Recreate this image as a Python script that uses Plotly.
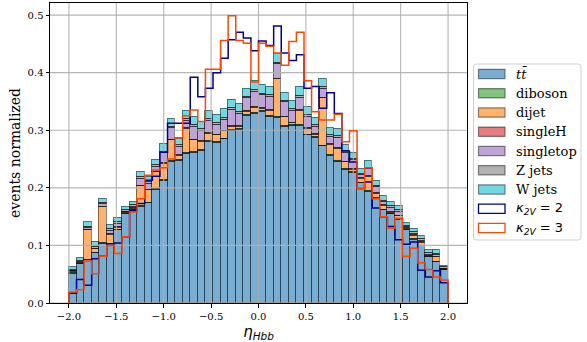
import numpy as np
import plotly.graph_objects as go

# ---- histogram binning: 50 bins on [-2, 2] ----
bin_edges = np.linspace(-2.0, 2.0, 51)
bin_centers = 0.5 * (bin_edges[:-1] + bin_edges[1:])
bin_width = bin_edges[1] - bin_edges[0]

# ---- background components (normalized, stacked) ----
ttbar = [0.051, 0.068, 0.074, 0.087, 0.103, 0.102, 0.126, 0.154, 0.161, 0.167,
         0.173, 0.196, 0.212, 0.245, 0.247, 0.259, 0.261, 0.264, 0.280, 0.278,
         0.284, 0.299, 0.301, 0.325, 0.329, 0.332, 0.323, 0.322, 0.306, 0.307,
         0.307, 0.291, 0.287, 0.272, 0.256, 0.245, 0.231, 0.226, 0.208, 0.193,
         0.181, 0.161, 0.154, 0.145, 0.126, 0.110, 0.099, 0.080, 0.071, 0.057]
diboson = [0.0005, 0.0006, 0.0008, 0.0007, 0.0009, 0.0008, 0.0009, 0.0010, 0.0010, 0.0011,
           0.0011, 0.0012, 0.0012, 0.0013, 0.0012, 0.0013, 0.0013, 0.0012, 0.0014, 0.0013,
           0.0013, 0.0014, 0.0013, 0.0014, 0.0014, 0.0014, 0.0013, 0.0014, 0.0013, 0.0013,
           0.0014, 0.0013, 0.0012, 0.0013, 0.0012, 0.0012, 0.0012, 0.0011, 0.0011, 0.0011,
           0.0010, 0.0010, 0.0009, 0.0009, 0.0008, 0.0008, 0.0007, 0.0007, 0.0006, 0.0005]
dijet = [0.003, 0.001, 0.052, 0.006, 0.063, 0.016, 0.004, 0.002, 0.002, 0.035,
         0.022, 0.030, 0.029, 0.036, 0.007, 0.042, 0.020, 0.015, 0.012, 0.012,
         0.013, 0.006, 0.004, 0.006, 0.009, 0.004, 0.010, 0.065, 0.015, 0.004,
         0.025, 0.010, 0.004, 0.082, 0.018, 0.022, 0.012, 0.004, 0.007, 0.025,
         0.008, 0.007, 0.002, 0.005, 0.002, 0.006, 0.005, 0.001, 0.008, 0.001]
singleH = [0.0004, 0.0005, 0.0006, 0.0005, 0.0006, 0.0006, 0.0007, 0.0007, 0.0008, 0.0008,
           0.0008, 0.0009, 0.0009, 0.0009, 0.0010, 0.0010, 0.0010, 0.0010, 0.0011, 0.0010,
           0.0011, 0.0011, 0.0011, 0.0011, 0.0011, 0.0011, 0.0011, 0.0011, 0.0010, 0.0011,
           0.0010, 0.0010, 0.0010, 0.0010, 0.0009, 0.0009, 0.0009, 0.0009, 0.0008, 0.0008,
           0.0008, 0.0007, 0.0007, 0.0007, 0.0006, 0.0006, 0.0005, 0.0005, 0.0005, 0.0004]
singletop = [0.001, 0.001, 0.002, 0.003, 0.004, 0.006, 0.006, 0.001, 0.002, 0.012,
             0.010, 0.008, 0.017, 0.020, 0.015, 0.013, 0.023, 0.018, 0.022, 0.017,
             0.018, 0.028, 0.021, 0.022, 0.026, 0.022, 0.022, 0.025, 0.025, 0.020,
             0.022, 0.020, 0.013, 0.015, 0.013, 0.018, 0.016, 0.016, 0.005, 0.012,
             0.010, 0.005, 0.008, 0.007, 0.002, 0.003, 0.003, 0.002, 0.003, 0.001]
zjets = [0.0020, 0.0022, 0.0026, 0.0024, 0.0027, 0.0025, 0.0026, 0.0025, 0.0027, 0.0028,
         0.0027, 0.0029, 0.0028, 0.0030, 0.0029, 0.0030, 0.0031, 0.0029, 0.0031, 0.0030,
         0.0031, 0.0032, 0.0030, 0.0031, 0.0032, 0.0031, 0.0030, 0.0031, 0.0030, 0.0031,
         0.0030, 0.0030, 0.0029, 0.0030, 0.0029, 0.0028, 0.0028, 0.0027, 0.0027, 0.0026,
         0.0026, 0.0025, 0.0025, 0.0024, 0.0024, 0.0023, 0.0022, 0.0022, 0.0021, 0.0020]
wjets = [0.005, 0.004, 0.008, 0.007, 0.007, 0.007, 0.007, 0.006, 0.006, 0.008,
         0.010, 0.010, 0.013, 0.014, 0.011, 0.014, 0.013, 0.012, 0.014, 0.014,
         0.016, 0.014, 0.014, 0.013, 0.015, 0.015, 0.015, 0.015, 0.014, 0.015,
         0.015, 0.014, 0.013, 0.014, 0.012, 0.012, 0.010, 0.010, 0.008, 0.012,
         0.009, 0.008, 0.008, 0.007, 0.006, 0.006, 0.006, 0.006, 0.006, 0.003]

# ---- signal hypotheses (step outlines) ----
k2v_2 = [0.017, 0.041, 0.031, 0.077, 0.081, 0.103, 0.104, 0.115, 0.160, 0.173,
         0.213, 0.220, 0.262, 0.312, 0.312, 0.312, 0.392, 0.358, 0.373, 0.400,
         0.425, 0.457, 0.470, 0.460, 0.438, 0.455, 0.447, 0.481, 0.434, 0.421,
         0.431, 0.373, 0.376, 0.338, 0.365, 0.329, 0.264, 0.245, 0.199, 0.210,
         0.165, 0.150, 0.133, 0.110, 0.102, 0.106, 0.057, 0.045, 0.056, 0.035]
k2v_3 = [0.019, 0.023, 0.073, 0.051, 0.081, 0.100, 0.086, 0.115, 0.158, 0.181,
         0.222, 0.231, 0.235, 0.250, 0.287, 0.325, 0.335, 0.315, 0.406, 0.406,
         0.456, 0.499, 0.456, 0.451, 0.384, 0.451, 0.446, 0.434, 0.413, 0.454,
         0.470, 0.386, 0.332, 0.318, 0.318, 0.328, 0.280, 0.299, 0.199, 0.235,
         0.181, 0.150, 0.130, 0.147, 0.081, 0.095, 0.070, 0.058, 0.045, 0.040]

x_ticks = [-2.0, -1.5, -1.0, -0.5, 0.0, 0.5, 1.0, 1.5, 2.0]
y_ticks = [0.0, 0.1, 0.2, 0.3, 0.4, 0.5]

X_RANGE = [-2.2, 2.2]
Y_RANGE = [0.0, 0.521]

SERIF = "DejaVu Serif"
SANS = "DejaVu Sans"

backgrounds = [
    ("<i>t</i><i>t̄</i>", ttbar, "rgba(31,119,180,0.6)"),
    ("diboson", diboson, "rgba(44,160,44,0.6)"),
    ("dijet", dijet, "rgba(255,127,14,0.6)"),
    ("singleH", singleH, "rgba(214,39,40,0.6)"),
    ("singletop", singletop, "rgba(148,103,189,0.6)"),
    ("Z jets", zjets, "rgba(127,127,127,0.6)"),
    ("W jets", wjets, "rgba(23,190,207,0.6)"),
]
signals = [
    ('<span style="font-family:DejaVu Sans"><i>κ</i><sub><i>2V</i></sub> = 2</span>', k2v_2, "#00008b"),
    ('<span style="font-family:DejaVu Sans"><i>κ</i><sub><i>2V</i></sub> = 3</span>', k2v_3, "#ff4500"),
]
EDGE = "rgba(0,0,0,0.45)"

fig = go.Figure()

for name, vals, color in backgrounds:
    fig.add_trace(go.Bar(
        x=bin_centers, y=vals, width=bin_width,
        marker=dict(color=color, line=dict(color=EDGE, width=1.3)),
        showlegend=False, hoverinfo="skip",
    ))

# grid drawn over the bars but under the step lines
gx, gy = [], []
for t in x_ticks:
    gx += [t, t, None]
    gy += [Y_RANGE[0], Y_RANGE[1], None]
for t in y_ticks:
    gx += [X_RANGE[0], X_RANGE[1], None]
    gy += [t, t, None]
fig.add_trace(go.Scatter(x=gx, y=gy, mode="lines",
                         line=dict(color="rgba(176,176,176,0.95)", width=1.1),
                         showlegend=False, hoverinfo="skip"))

for name, vals, color in signals:
    sx = [bin_edges[0]] + list(bin_edges[:-1]) + [bin_edges[-1]]
    sy = [0.0] + list(vals) + [0.0]
    fig.add_trace(go.Scatter(x=sx, y=sy, mode="lines", line_shape="hv",
                             line=dict(color=color, width=1.5),
                             showlegend=False, hoverinfo="skip"))

# ---- hand-built legend (pixel layout converted to paper coordinates) ----
W, H = 587, 342
ML, MR, MT, MB = 50, 120, 3, 39
plot_w = W - ML - MR
plot_h = H - MT - MB


def px(xp):
    return (xp - ML) / plot_w


def py(yp):
    return (H - MB - yp) / plot_h


shapes = []
annotations = []
bx0, bx1, by0, by1, r = 473.5, 581, 64, 240, 3
shapes.append(dict(
    type="path", xref="paper", yref="paper",
    path=(f"M {px(bx0 + r)},{py(by0)} L {px(bx1 - r)},{py(by0)} "
          f"Q {px(bx1)},{py(by0)} {px(bx1)},{py(by0 + r)} "
          f"L {px(bx1)},{py(by1 - r)} Q {px(bx1)},{py(by1)} {px(bx1 - r)},{py(by1)} "
          f"L {px(bx0 + r)},{py(by1)} Q {px(bx0)},{py(by1)} {px(bx0)},{py(by1 - r)} "
          f"L {px(bx0)},{py(by0 + r)} Q {px(bx0)},{py(by0)} {px(bx0 + r)},{py(by0)} Z"),
    line=dict(color="#d0d0d0", width=1), fillcolor="rgba(255,255,255,0.8)", layer="above",
))

entries = [(n, c, "fill") for n, _, c in backgrounds] + [(n, c, "line") for n, _, c in signals]
for k, (name, color, kind) in enumerate(entries):
    yc = 74 + 19.25 * k
    if kind == "fill":
        shapes.append(dict(type="rect", xref="paper", yref="paper",
                           x0=px(478.5), x1=px(505), y0=py(yc + 4.7), y1=py(yc - 4.7),
                           fillcolor=color, line=dict(color=EDGE, width=1.2), layer="above"))
    else:
        shapes.append(dict(type="rect", xref="paper", yref="paper",
                           x0=px(478.5), x1=px(505), y0=py(yc + 4.7), y1=py(yc - 4.7),
                           fillcolor="white", line=dict(color=color, width=1.3), layer="above"))
    annotations.append(dict(xref="paper", yref="paper", x=px(514), y=py(yc),
                            xanchor="left", yanchor="middle", showarrow=False,
                            text=name, font=dict(family=SERIF, size=13, color="black")))

fig.update_layout(
    width=W, height=H,
    margin=dict(l=ML, r=MR, t=MT, b=MB, pad=0),
    paper_bgcolor="white", plot_bgcolor="white",
    barmode="stack", bargap=0,
    shapes=shapes, annotations=annotations,
    showlegend=False,
    xaxis=dict(
        range=X_RANGE, tickvals=x_ticks, tickformat=".1f",
        showgrid=False, zeroline=False,
        showline=True, mirror=True, linecolor="black", linewidth=1,
        ticks="outside", ticklen=3.5, tickwidth=1, tickcolor="black",
        tickfont=dict(family=SERIF, size=10, color="black"),
        title=dict(text="<i>η</i><sub><i>Hbb</i></sub>", standoff=6,
                   font=dict(family=SANS, size=15, color="black")),
    ),
    yaxis=dict(
        range=Y_RANGE, tickvals=y_ticks, tickformat=".1f",
        showgrid=False, zeroline=False,
        showline=True, mirror=True, linecolor="black", linewidth=1,
        ticks="outside", ticklen=3.5, tickwidth=1, tickcolor="black",
        tickfont=dict(family=SERIF, size=10, color="black"),
        title=dict(text="events normalized", standoff=3,
                   font=dict(family=SERIF, size=14, color="black")),
    ),
)

fig.write_html("out.html")
